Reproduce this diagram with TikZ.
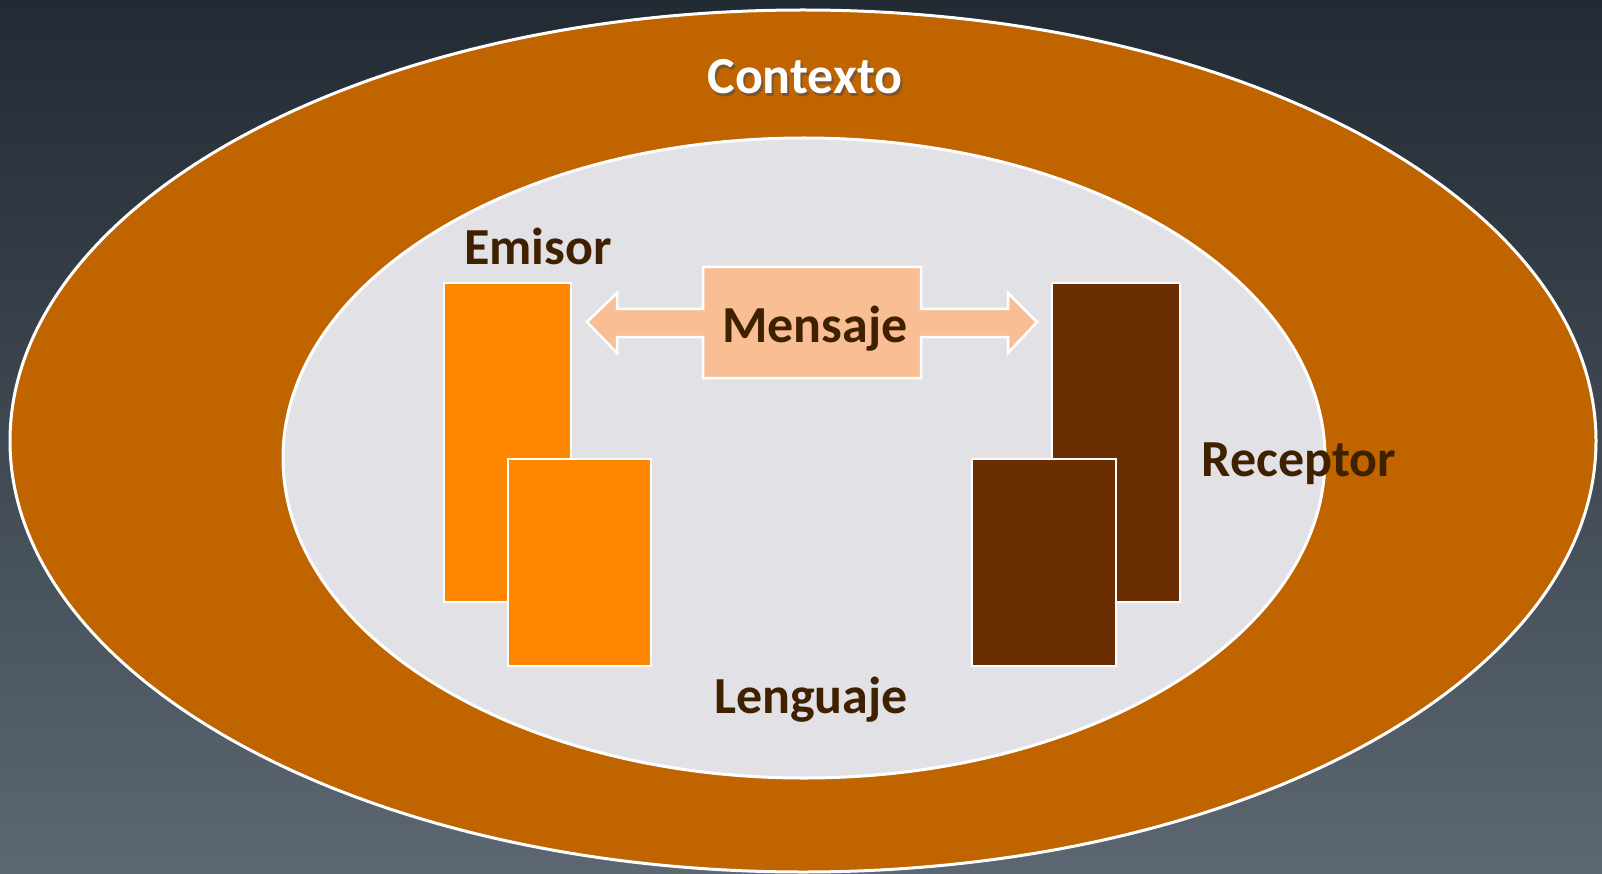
\documentclass[tikz,border=0pt]{standalone}
\usepackage{fontspec}
\setmainfont{Carlito}
\definecolor{BgTop}{HTML}{222A33}
\definecolor{BgBottom}{HTML}{5C6771}
\definecolor{Kontext}{HTML}{C06400}
\definecolor{Sprache}{HTML}{E2E1E6}
\definecolor{SenderOrange}{HTML}{FF8800}
\definecolor{EmpfBraun}{HTML}{6B2E03}
\definecolor{NachrLachs}{HTML}{F9BE93}
\definecolor{Schrift}{HTML}{3F2100}
\tikzset{
  beschriftung/.style={font=\fontsize{52}{52}\selectfont\bfseries,text=Schrift,inner sep=0pt,anchor=base},
  kasten/.style={draw=white,line width=2.5pt},
}

\begin{document}
\begin{tikzpicture}[x=1pt,y=-1pt]
			\useasboundingbox (0,0) rectangle (1602,874);
			\shade[top color=BgTop,bottom color=BgBottom] (0,0) rectangle (1602,874);
			% Kontext und Sprache
			\coordinate (mitteaussen) at (803,441);
			\coordinate (mitteinnen) at (804,458);
			\draw[white,fill=Kontext,line width=3pt] (mitteaussen) ellipse[x radius=793,y radius=431];
			\draw[white,fill=Sprache,line width=3pt] (mitteinnen) ellipse[x radius=521,y radius=320];
			% Rechtecke (links oben, rechts unten)
			\coordinate (1) at (444,283);  \coordinate (1b) at (571,602);
			\coordinate (2) at (508,459);  \coordinate (2b) at (651,666);
			\coordinate (3) at (1052,283); \coordinate (3b) at (1180,602);
			\coordinate (4) at (972,459);  \coordinate (4b) at (1116,666);
			\foreach \x in {1,2}{
				\draw[kasten,fill=SenderOrange] (\x) rectangle (\x b);
			}
			\foreach \x in {3,4}{
				\draw[kasten,fill=EmpfBraun] (\x) rectangle (\x b);
			}
			% Doppelpfeil mit Kasten
			\draw[kasten,fill=NachrLachs,line join=miter]
				(587,322) -- (617,293) -- (617,309) -- (703,309) -- (703,267) -- (921,267)
				-- (921,309) -- (1008,309) -- (1008,293) -- (1037,322) -- (1008,353)
				-- (1008,337) -- (921,337) -- (921,378) -- (703,378) -- (703,337)
				-- (617,337) -- (617,353) -- cycle;
			% Texte (Grundlinien)
			\node[beschriftung,text=black!70,opacity=.6] (kontextschatten) at (807,97) {Contexto};
			\node[beschriftung,text=white] (kontext) at (805,94) {Contexto};
			\node[beschriftung] (sender) at (538,265) {Emisor};
			\node[beschriftung] (nachricht) at (815,342) {Mensaje};
			\node[beschriftung] (empfaenger) at (1299,476) {Receptor};
			\node[beschriftung] (sprache) at (811,713) {Lenguaje};
		\end{tikzpicture}
\end{document}
